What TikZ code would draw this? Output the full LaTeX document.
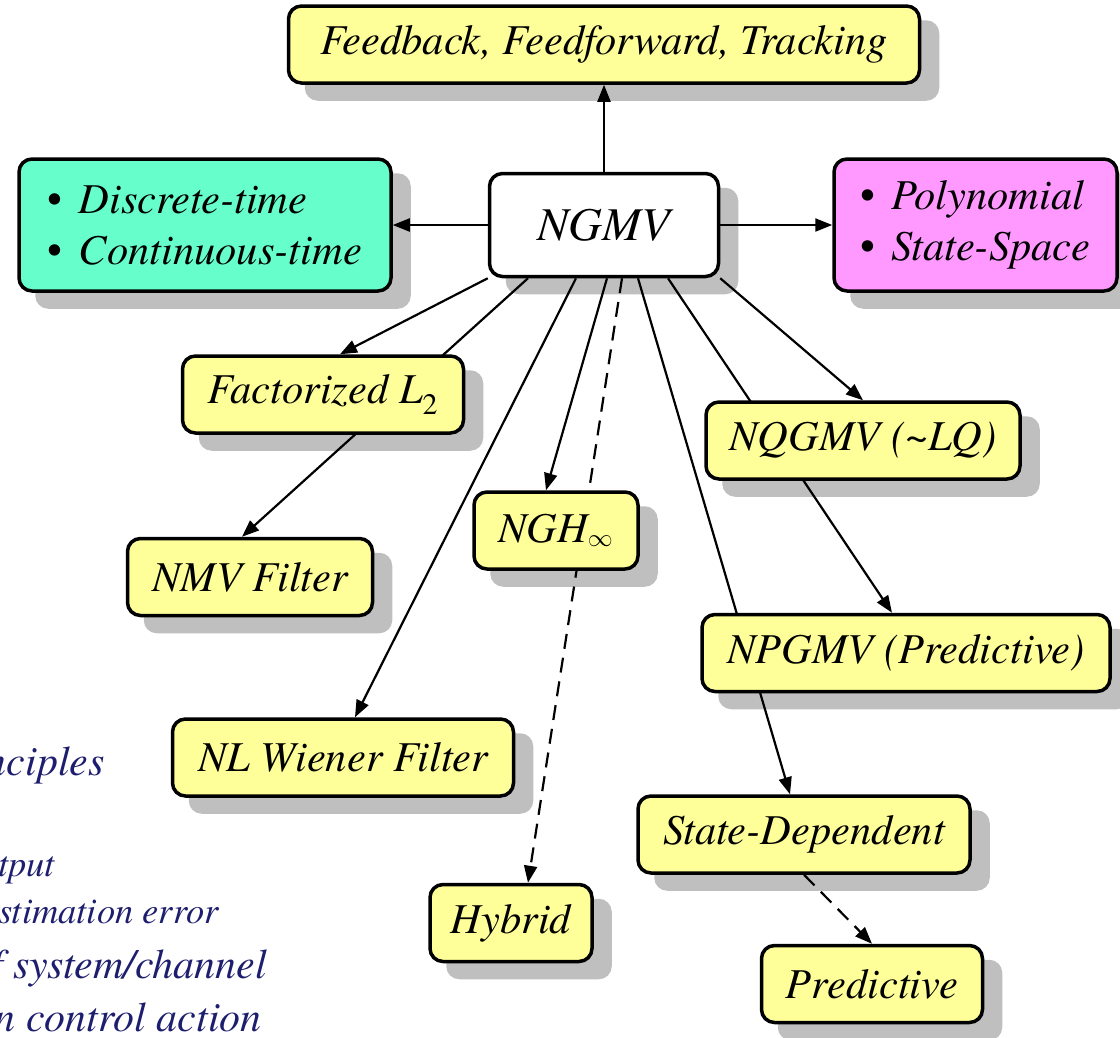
\documentclass[tikz,border=0pt]{standalone}
\usepackage{fontspec}
\setmainfont{TeX Gyre Termes}
\usetikzlibrary{positioning,arrows.meta,backgrounds}
\pgfdeclarelayer{shade}
\pgfsetlayers{shade,background,main}

\definecolor{boxyellow}{RGB}{255,255,153}
\definecolor{boxcyan}{RGB}{102,255,204}
\definecolor{boxpink}{RGB}{255,153,255}
\definecolor{notenavy}{RGB}{30,30,110}

\begin{document}
\begin{tikzpicture}[
    x=1pt, y=1pt,
    box/.style={draw, line width=3.5pt, rounded corners=13pt, fill=boxyellow, minimum height=77pt, inner sep=0pt, align=center,
        font=\fontsize{42.5}{51}\selectfont\itshape},
    list/.style={box, minimum height=132pt, align=left},
    shade/.style={fill=black!25, rounded corners=13pt},
    note/.style={text=notenavy, inner sep=0pt, anchor=base east},
    link/.style={line width=2.2pt},
    >={Triangle[length=17pt,width=13pt]}
]
\useasboundingbox (0,0) rectangle (1120,-1037);
\clip (0,0) rectangle (1120,-1037);

\node[box, fill=white, minimum width=229pt, minimum height=103pt, font=\fontsize{47}{56}\selectfont\itshape] (ngmv) at (604,-225) {NGMV};
\node[box, minimum width=631pt, above=87pt of ngmv] (fb) {Feedback, Feedforward, Tracking};
\node[list, fill=boxcyan, minimum width=372pt, left=95pt of ngmv] (disc) {{\upshape\textbullet}\hspace{16pt}Discrete-time\\{\upshape\textbullet}\hspace{16pt}Continuous-time};
\node[list, fill=boxpink, minimum width=283pt, right=112pt of ngmv] (poly) {{\upshape\textbullet}\hspace{16pt}Polynomial\\{\upshape\textbullet}\hspace{16pt}State-Space};

\node[box, minimum width=281pt, below=76pt of ngmv, xshift=-281pt] (fact) {Factorized L\textsubscript{\upshape 2}};
\node[box, minimum width=245pt, below=102pt of fact, xshift=-73pt] (nmv) {NMV Filter};
\node[box, minimum width=341pt, below=100pt of nmv, xshift=93pt] (wiener) {NL Wiener Filter};
\node[box, minimum width=164pt, below=212pt of ngmv, xshift=-48pt] (ngh) {NGH$_\infty$};
\node[box, minimum width=162pt, below=312pt of ngh, xshift=-45pt] (hybrid) {Hybrid};
\node[box, minimum width=314pt, below=122pt of ngmv, xshift=259pt] (nqgmv) {NQGMV (\textasciitilde LQ)};
\node[box, minimum width=408pt, below=132pt of nqgmv, xshift=43pt] (npgmv) {NPGMV (Predictive)};
\node[box, minimum width=332pt, below=101pt of npgmv, xshift=-102pt] (state) {State-Dependent};
\node[box, minimum width=221pt, below=69pt of state, xshift=68pt] (pred) {Predictive};

% cut-off notes at the left edge
\node[note, font=\fontsize{42}{48}\selectfont\itshape] (n1) at (105,-775) {nciples};
\node[note, font=\fontsize{36.5}{42}\selectfont\itshape] (n2) at (55,-876) {tput};
\node[note, font=\fontsize{36.5}{42}\selectfont\itshape] (n3) at (219,-923) {stimation error};
\node[note, font=\fontsize{42}{48}\selectfont\itshape] (n4) at (267,-978) {f system/channel};
\node[note, font=\fontsize{42}{48}\selectfont\itshape] (n5) at (262,-1031) {n control action};

% shadows
\begin{pgfonlayer}{shade}
\foreach \n in {fb,ngmv,disc,poly,fact,nmv,wiener,ngh,hybrid,nqgmv,npgmv,state,pred}
  \fill[shade] ([shift={(18pt,-16pt)}]\n.south west) rectangle ([shift={(18pt,-16pt)}]\n.north east);
\end{pgfonlayer}

% connectors: over the shadows, under the boxes
\begin{scope}[on background layer]
\draw[link,->] (ngmv) -- (fb);
\draw[link,->] (ngmv) -- (disc);
\draw[link,->] (ngmv) -- (poly);
\draw[link,->] (ngmv.south west) -- ([xshift=17pt]fact.north);
\draw[link,->] ([xshift=-76pt]ngmv.south) -- ([xshift=-8pt]nmv.north);
\draw[link,->] ([xshift=-28pt]ngmv.south) -- ([xshift=12pt]wiener.north);
\draw[link,->] ([xshift=3pt]ngmv.south) -- ([xshift=-10pt]ngh.north);
\draw[link,->,dash pattern=on 15pt off 9pt] ([xshift=18pt]ngmv.south) -- ([xshift=17pt]hybrid.north);
\draw[link,->] ([xshift=34pt]ngmv.south) -- ([xshift=-14pt]state.north);
\draw[link,->] ([xshift=64pt]ngmv.south) -- ([xshift=-14pt]npgmv.north);
\draw[link,->] (ngmv.south east) -- (nqgmv.north);
\draw[link,->,dash pattern=on 15pt off 9pt] (state.south) -- (pred.north);
\end{scope}
\end{tikzpicture}
\end{document}
